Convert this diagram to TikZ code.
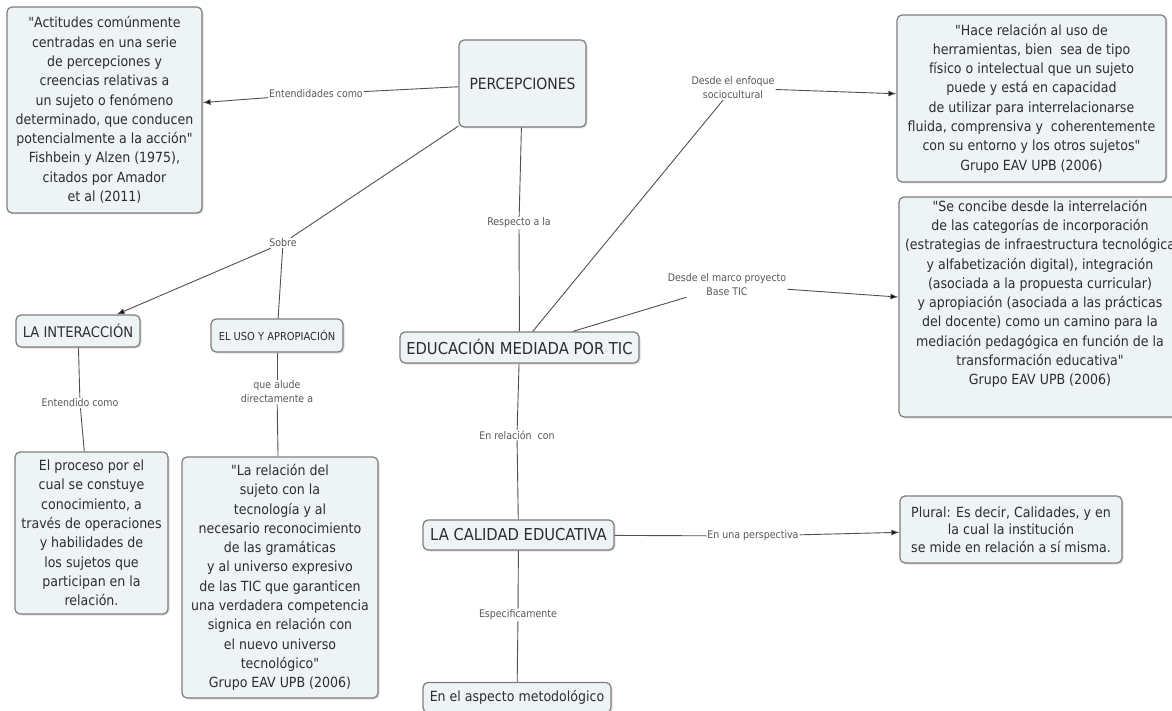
\documentclass[tikz,border=0pt]{standalone}
\usepackage{fontspec}
\setmainfont{DejaVu Sans Condensed}[Ligatures=TeXOff]
\usetikzlibrary{shadows,arrows.meta}
\definecolor{boxfill}{RGB}{238,243,246}
\definecolor{boxline}{RGB}{125,125,125}
\definecolor{linkline}{RGB}{80,80,80}
\definecolor{textgray}{RGB}{45,45,45}
\begin{document}
\begin{tikzpicture}[x=1pt, y=-1pt,
  concept/.style={draw=boxline, line width=1.2pt, fill=boxfill, rounded corners=5pt,
    align=center, text=textgray, inner sep=1pt,
    drop shadow={opacity=0.25, shadow xshift=1.5pt, shadow yshift=-1.5pt},
    font=\fontsize{14}{19.3}\selectfont},
  phrase/.style={align=center, text=textgray!80, inner sep=1pt,
    font=\fontsize{10.5}{14}\selectfont},
  link/.style={draw=linkline, line width=0.9pt},
  tip/.style={-{Latex[length=8pt,width=6pt]}}]
\clip (0,0) rectangle (1172,711);
% concepts
\node[concept, minimum width=127, minimum height=87, font=\fontsize{15.5}{19}\selectfont] (percep) at (522.5,83.5) {PERCEPCIONES};
\node[concept, minimum width=195, minimum height=206] (actitudes) at (104.5,110) {"Actitudes comúnmente\\centradas en una serie\\de percepciones y\\creencias relativas a\\un sujeto o fenómeno\\determinado, que conducen\\potencialmente a la acción"\\Fishbein y Alzen (1975),\\citados por Amador\\et al (2011)};
\node[concept, minimum width=269, minimum height=167] (herram) at (1031.5,98.5) {"Hace relación al uso de\\herramientas, bien~ sea de tipo\\físico o intelectual que un sujeto\\puede y está en capacidad\\de utilizar para interrelacionarse\\fluida, comprensiva y~ coherentemente\\con su entorno y los otros sujetos"\\Grupo EAV UPB (2006)};
\node[concept, minimum width=282, minimum height=220] (concibe) at (1040,307) {"Se concibe desde la interrelación\\de las categorías de incorporación\\(estrategias de infraestructura tecnológica\\y alfabetización digital), integración\\(asociada a la propuesta curricular)\\y apropiación (asociada a las prácticas\\del docente) como un camino para la\\mediación pedagógica en función de la\\transformación educativa"\\Grupo EAV UPB (2006)\\[10pt]};
\node[concept, minimum width=124, minimum height=32, font=\fontsize{14.6}{18}\selectfont] (interac) at (78,331) {LA INTERACCIÓN};
\node[concept, minimum width=132, minimum height=33, font=\fontsize{11}{14}\selectfont] (uso) at (277,335.5) {EL USO Y APROPIACIÓN};
\node[concept, minimum width=239, minimum height=31, font=\fontsize{16.4}{19}\selectfont] (educ) at (519.5,347.5) {EDUCACIÓN MEDIADA POR TIC};
\node[concept, minimum width=153, minimum height=162] (proceso) at (91.5,533) {El proceso por el\\cual se constuye\\conocimiento, a\\través de operaciones\\y habilidades de\\los sujetos que\\participan en la\\relación.};
\node[concept, minimum width=196, minimum height=241] (relacion) at (280,577.5) {"La relación del\\sujeto con la\\tecnología y al\\necesario reconocimiento\\de las gramáticas\\y al universo expresivo\\de las TIC que garanticen\\una verdadera competencia\\signica en relación con\\el nuevo universo\\tecnológico"\\Grupo EAV UPB (2006)};
\node[concept, minimum width=191, minimum height=30, font=\fontsize{16.4}{19}\selectfont] (calidad) at (518.5,535) {LA CALIDAD EDUCATIVA};
\node[concept, minimum width=222, minimum height=67, font=\fontsize{14}{17.5}\selectfont] (plural) at (1011,529.5) {Plural: Es decir, Calidades, y en\\la cual la institución\\se mide en relación a sí misma.};
\node[concept, minimum width=188, minimum height=30] (aspecto) at (517,697.5) {En el aspecto metodológico};
% linking phrases
\node[phrase] (entendidas) at (316,94) {Entendidades como};
\node[phrase] (sobre) at (283,243) {Sobre};
\node[phrase] (respecto) at (519,223) {Respecto a la};
\node[phrase] (enfoque) at (733,88) {Desde el enfoque\\sociocultural};
\node[phrase] (marco) at (727,285) {Desde el marco proyecto\\Base TIC};
\node[phrase] (entendido) at (80,403) {Entendido como};
\node[phrase] (alude) at (277,392) {que alude\\directamente a};
\node[phrase] (relcon) at (517,435) {En relación~ con};
\node[phrase] (especif) at (518,615) {Especificamente};
\node[phrase] (perspect) at (753,536) {En una perspectiva};
% links
\path [link] (percep) edge (entendidas);
\path [link, tip] (entendidas) edge (actitudes);
\path [link] (percep) edge (sobre);
\path [link, tip] (sobre) edge (interac);
\path [link] (sobre) edge (uso);
\path [link] (percep) edge (respecto);
\path [link] (respecto) edge (educ);
\path [link] (educ) edge (enfoque);
\path [link, tip] (enfoque) edge (herram);
\path [link] (educ) edge (marco);
\path [link, tip] (marco) edge (concibe);
\path [link] (interac) edge (entendido);
\path [link] (entendido) edge (proceso);
\path [link] (uso) edge (alude);
\path [link] (alude) edge (relacion);
\path [link] (educ) edge (relcon);
\path [link] (relcon) edge (calidad);
\path [link] (calidad) edge (especif);
\path [link] (especif) edge (aspecto);
\path [link] (calidad) edge (perspect);
\path [link, tip] (perspect) edge (plural);
\end{tikzpicture}
\end{document}
